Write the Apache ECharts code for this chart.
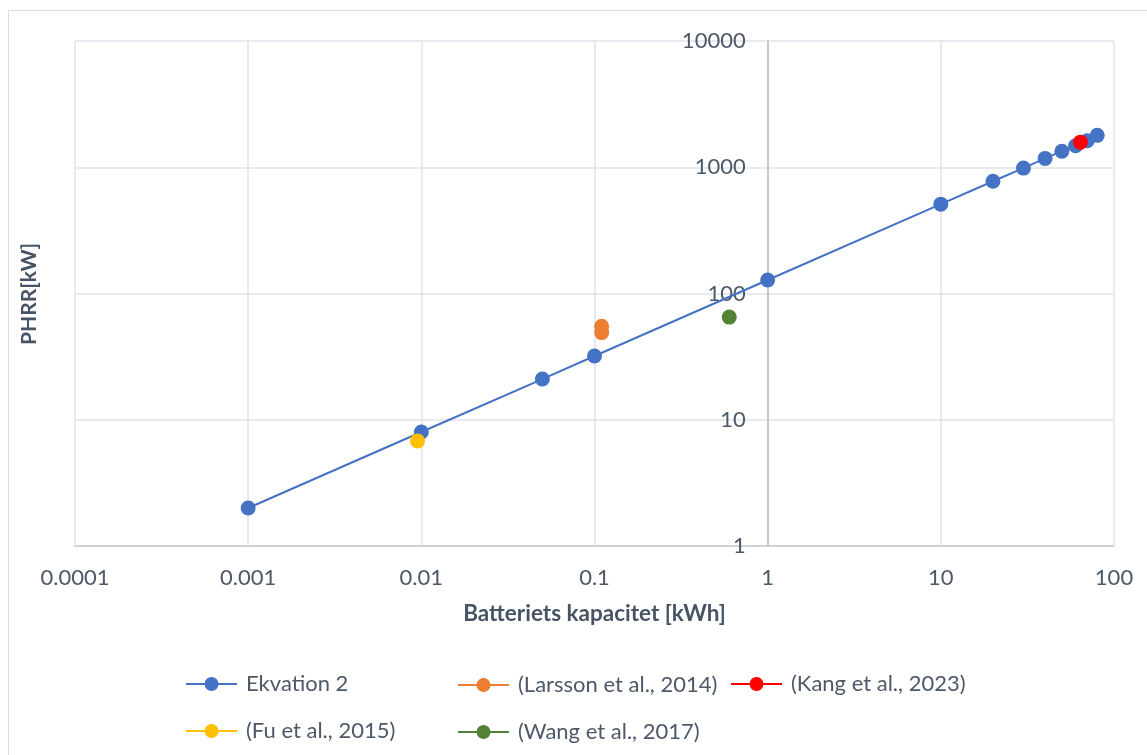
<!DOCTYPE html>
<html>
<head>
<meta charset="utf-8">
<script src="https://cdn.jsdelivr.net/npm/echarts@6/dist/echarts.min.js"></script>
<style>
  html, body { margin: 0; padding: 0; background: #ffffff; }
  #chart { width: 1147px; height: 755px; }
</style>
</head>
<body>
<div id="chart"></div>
<script>
// Battery capacity [kWh] vs. peak heat release rate [kW]
const ekvationX = [0.001, 0.01, 0.05, 0.1, 1, 10, 20, 30, 40, 50, 60, 70, 80];
const ekvationY = [2.0, 8.0, 21, 32, 128, 510, 775, 985, 1175, 1340, 1480, 1620, 1790];
const larssonX = [0.11, 0.11];
const larssonY = [55, 49];
const kangX = [64];
const kangY = [1580];
const fuX = [0.0095];
const fuY = [6.8];
const wangX = [0.6];
const wangY = [65];

const xTickLabels = ['0.0001', '0.001', '0.01', '0.1', '1', '10', '100'];
const yTickLabels = ['1', '10', '100', '1000', '10000'];

const seriesNames = ['Ekvation 2', '(Larsson et al., 2014)', '(Kang et al., 2023)', '(Fu et al., 2015)', '(Wang et al., 2017)'];
const seriesColors = ['#4472C4', '#ED7D31', '#FF0000', '#FFC000', '#548235'];

const pairs = (xs, ys) => xs.map((x, i) => [x, ys[i]]);

const FONT = 'Lato, "Open Sans", sans-serif';
const TEXT = '#4d5868';

const gridLeft = 75, gridRight = 33, gridTop = 41, gridBottom = 209;
const gridWidth = 1147 - gridLeft - gridRight;
// y axis crosses the x axis at x = 1 (4 of 6 decades from the left)
const yAxisOffset = -gridWidth * 4 / 6;

function makeSeries(idx, data) {
  return {
    name: seriesNames[idx],
    type: 'line',
    data: data,
    symbol: 'circle',
    symbolSize: 15,
    color: seriesColors[idx],
    lineStyle: { width: 2, color: seriesColors[idx] },
    itemStyle: { color: seriesColors[idx] },
    z: 3 + idx
  };
}

const legendBase = {
  orient: 'vertical',
  padding: 0,
  itemWidth: 51,
  itemHeight: 17.5,
  itemGap: 21,
  textStyle: { fontFamily: FONT, fontSize: 22, lineHeight: 26, color: TEXT, padding: [0, 0, 0, 4] }
};

const chart = echarts.init(document.getElementById('chart'), null, { renderer: 'canvas' });
chart.setOption({
  backgroundColor: '#ffffff',
  animation: false,
  grid: { left: gridLeft, right: gridRight, top: gridTop, bottom: gridBottom },
  xAxis: {
    type: 'log',
    logBase: 10,
    min: 0.0001,
    max: 100,
    axisLine: { show: true, onZero: false, lineStyle: { color: '#c3c9d3', width: 1.5 } },
    axisTick: { show: false },
    splitLine: { show: true, lineStyle: { color: '#dfe3ea', width: 1.5 } },
    axisLabel: {
      margin: 21,
      fontFamily: FONT, fontSize: 22, color: TEXT,
      formatter: (v, i) => xTickLabels[i]
    }
  },
  yAxis: {
    type: 'log',
    logBase: 10,
    min: 1,
    max: 10000,
    position: 'left',
    offset: yAxisOffset,
    axisLine: { show: true, onZero: false, lineStyle: { color: '#c3cad6', width: 2 } },
    axisTick: { show: false },
    splitLine: { show: true, lineStyle: { color: '#dfe3ea', width: 1.5 } },
    axisLabel: {
      margin: 22,
      fontFamily: FONT, fontSize: 22, color: TEXT,
      formatter: (v, i) => yTickLabels[i]
    }
  },
  legend: [
    Object.assign({}, legendBase, { left: 185, top: 671, data: [seriesNames[0], seriesNames[3]] }),
    Object.assign({}, legendBase, { left: 457, top: 672, data: [seriesNames[1], seriesNames[4]] }),
    Object.assign({}, legendBase, { left: 730, top: 671, data: [seriesNames[2]] })
  ],
  graphic: [
    {
      type: 'rect',
      shape: { x: 8.5, y: 10.5, width: 1160, height: 780 },
      style: { fill: 'none', stroke: '#d9dce1', lineWidth: 1 },
      silent: true
    },
    {
      // x-axis title, centred under the plot area
      type: 'text',
      x: gridLeft + gridWidth / 2,
      y: 602,
      style: {
        text: 'Batteriets kapacitet [kWh]',
        font: 'bold 22.5px ' + FONT,
        fill: '#475466',
        align: 'center',
        verticalAlign: 'top'
      }
    },
    {
      type: 'text',
      x: 19,
      y: 345,
      rotation: Math.PI / 2,
      style: {
        text: 'PHRR[kW]',
        font: 'bold 21px ' + FONT,
        fill: '#475466'
      }
    }
  ],
  series: [
    makeSeries(0, pairs(ekvationX, ekvationY)),
    makeSeries(1, pairs(larssonX, larssonY)),
    makeSeries(2, pairs(kangX, kangY)),
    makeSeries(3, pairs(fuX, fuY)),
    makeSeries(4, pairs(wangX, wangY))
  ]
});
</script>
</body>
</html>
